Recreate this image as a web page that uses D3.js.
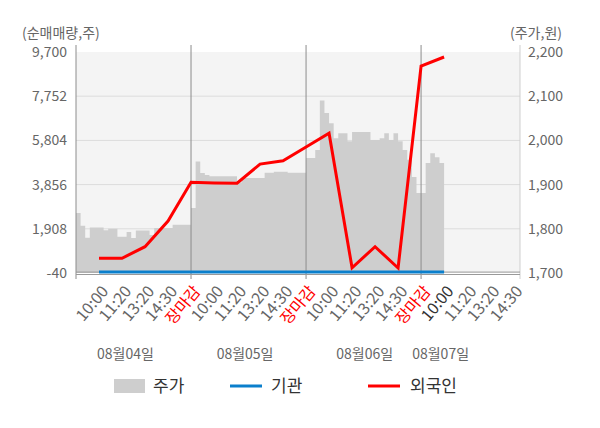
<!DOCTYPE html>
<html>
<head>
<meta charset="utf-8">
<script src="https://cdn.jsdelivr.net/npm/d3@7"></script>
<style>
  body { margin: 0; background: #fff; }
  text { font-family: "Noto Sans CJK KR", "Noto Sans", sans-serif; }
</style>
</head>
<body>
<script>
// x labels per slot (slot 1..19)
const timeLabels = ["10:00", "11:20", "13:20", "14:30", "장마감",
                    "10:00", "11:20", "13:20", "14:30", "장마감",
                    "10:00", "11:20", "13:20", "14:30", "장마감",
                    "10:00", "11:20", "13:20", "14:30"];
const dayLabels = ["08월04일", "08월05일", "08월06일", "08월07일"];
const leftTicks = [-40, 1908, 3856, 5804, 7752, 9700];
const rightTicks = [1700, 1800, 1900, 2000, 2100, 2200];

// 외국인 / 기관 net volume at slots 1..16
const foreignNet = [610, 610, 1120, 2250, 3960, 3930, 3920, 4760, 4910, 5510,
                    6120, 190, 1120, 180, 9080, 9480];
const institutionNet = [0, 0, 0, 0, 0, 0, 0, 0, 0, 0, 0, 0, 0, 0, 0, 0];

// 주가, sampled every 0.2 slot from the first open
const price = [
  1836, 1807, 1780, 1803, 1803, 1803, 1797, 1800, 1800, 1782, 1782, 1793, 1779,
  1796, 1796, 1796, 1786, 1802, 1802, 1802, 1802, 1809, 1809, 1809, 1809,
  1847, 1952, 1926, 1922, 1919, 1919, 1919, 1919, 1919, 1919, 1905, 1915, 1915,
  1915, 1915, 1915, 1927, 1927, 1929, 1929, 1929, 1927, 1927, 1927, 1927,
  1960, 1960, 1978, 2090, 2062, 2039, 2005, 2016, 2016, 1998, 2019, 2019, 2019,
  2019, 2001, 2001, 2005, 2016, 2001, 2016, 1998, 1978, 1956, 1917, 1881,
  1881, 1949, 1971, 1962, 1949, 1962
];
const priceStep = 0.2;

const W = 600, H = 428;
const pLeft = 76, pRight = 520, pTop = 52, pBottom = 273;
const dateSlots = [2.15, 7.35, 12.55, 15.85];

const fmt = v => d3.format(",")(v).replace("\u2212", "-");

const svg = d3.select("body").append("svg")
  .attr("width", W).attr("height", H);

const x = d3.scaleLinear().domain([0, 19.3]).range([pLeft, pRight]);
const yL = d3.scaleLinear().domain([-40, 9700]).range([pBottom, pTop]);
const yR = d3.scaleLinear().domain([1700, 2200]).range([pBottom, pTop]);

// plot background
svg.append("rect")
  .attr("x", pLeft).attr("y", pTop)
  .attr("width", pRight - pLeft).attr("height", pBottom - pTop)
  .attr("fill", "#f4f4f4");

// horizontal grid
svg.selectAll(".grid").data(leftTicks.slice(1, -1)).enter().append("line")
  .attr("x1", pLeft).attr("x2", pRight)
  .attr("y1", d => yL(d)).attr("y2", d => yL(d))
  .attr("stroke", "#dcdcdc");

// price area
const area = d3.area()
  .x((d, i) => x(i * priceStep))
  .y0(yR(1700))
  .y1(d => yR(d))
  .curve(d3.curveStepAfter);

svg.append("path")
  .datum(price)
  .attr("d", area)
  .attr("fill", "#cecece");

// day separators and axis lines
svg.selectAll(".day").data([0, 5, 10, 15]).enter().append("line")
  .attr("x1", d => d === 0 ? pLeft : x(d)).attr("x2", d => d === 0 ? pLeft : x(d))
  .attr("y1", 45).attr("y2", pBottom + 6)
  .attr("stroke", "#8c8c8c");

svg.append("line")
  .attr("x1", pRight).attr("x2", pRight)
  .attr("y1", 45).attr("y2", pBottom + 6)
  .attr("stroke", "#cfcfcf");

svg.append("line")
  .attr("x1", pLeft).attr("x2", pRight)
  .attr("y1", yL(0)).attr("y2", yL(0))
  .attr("stroke", "#999");

svg.append("line")
  .attr("x1", pLeft).attr("x2", pRight)
  .attr("y1", pBottom + 1.5).attr("y2", pBottom + 1.5)
  .attr("stroke", "#999");

// lines
const line = d3.line()
  .x((d, i) => x(i + 1))
  .y(d => yL(d));

svg.append("path")
  .datum(institutionNet)
  .attr("d", line)
  .attr("fill", "none")
  .attr("stroke", "#0b7fcc")
  .attr("stroke-width", 3);

svg.append("path")
  .datum(foreignNet)
  .attr("d", line)
  .attr("fill", "none")
  .attr("stroke", "#ff0000")
  .attr("stroke-width", 3);

// axis labels
svg.selectAll(".lt").data(leftTicks).enter().append("text")
  .attr("x", 67).attr("y", d => yL(d))
  .attr("dy", "0.35em")
  .attr("text-anchor", "end")
  .attr("font-size", 14)
  .attr("fill", "#666")
  .text(fmt);

svg.selectAll(".rt").data(rightTicks).enter().append("text")
  .attr("x", 528).attr("y", d => yR(d))
  .attr("dy", "0.35em")
  .attr("font-size", 14)
  .attr("fill", "#666")
  .text(fmt);

svg.append("text")
  .attr("x", 22).attr("y", 38)
  .attr("font-size", 14).attr("fill", "#666")
  .text("(순매매량,주)");

svg.append("text")
  .attr("x", 562).attr("y", 38)
  .attr("text-anchor", "end")
  .attr("font-size", 14).attr("fill", "#666")
  .text("(주가,원)");

// x labels
svg.selectAll(".xl").data(timeLabels).enter().append("text")
  .attr("transform", (d, i) => `translate(${x(i + 1) + 6},${pBottom + 15}) rotate(-50)`)
  .attr("dy", "0.35em")
  .attr("text-anchor", "end")
  .attr("font-size", 16)
  .attr("fill", (d, i) => d === "장마감" ? "#ff0000" : (i === 15 ? "#333" : "#666"))
  .text(d => d);

svg.selectAll(".dl").data(dayLabels).enter().append("text")
  .attr("x", (d, i) => x(dateSlots[i]))
  .attr("y", 359)
  .attr("text-anchor", "middle")
  .attr("font-size", 14)
  .attr("fill", "#666")
  .text(d => d);

// legend
const lg = svg.append("g");
lg.append("rect").attr("x", 114).attr("y", 379).attr("width", 31).attr("height", 14)
  .attr("fill", "#cecece");
lg.append("text").attr("x", 153).attr("y", 386).attr("dy", "0.35em")
  .attr("font-size", 17).attr("fill", "#333").text("주가");
lg.append("line").attr("x1", 230).attr("x2", 262).attr("y1", 386).attr("y2", 386)
  .attr("stroke", "#0b7fcc").attr("stroke-width", 3);
lg.append("text").attr("x", 271).attr("y", 386).attr("dy", "0.35em")
  .attr("font-size", 17).attr("fill", "#333").text("기관");
lg.append("line").attr("x1", 368).attr("x2", 400).attr("y1", 386).attr("y2", 386)
  .attr("stroke", "#ff0000").attr("stroke-width", 3);
lg.append("text").attr("x", 410).attr("y", 386).attr("dy", "0.35em")
  .attr("font-size", 17).attr("fill", "#333").text("외국인");
</script>
</body>
</html>
